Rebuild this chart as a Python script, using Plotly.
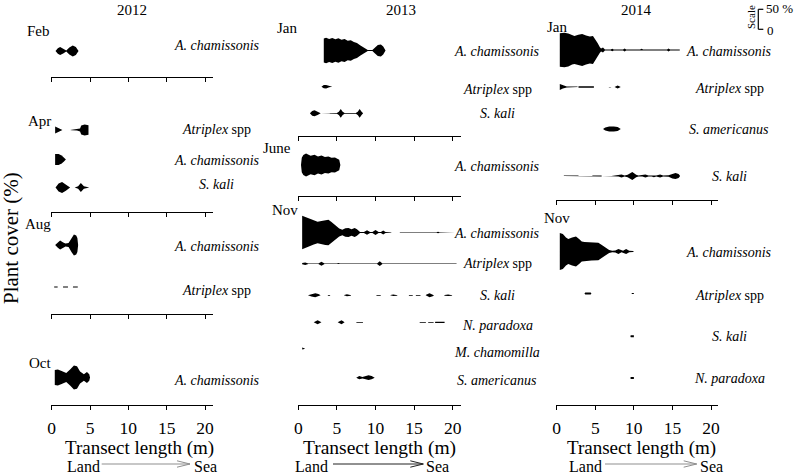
import plotly.graph_objects as go

# ---------------- DATA: (transect position m, plant cover %) breakpoints ----------------
YEARS = ["2012", "2013", "2014"]
TICKS = [0, 5, 10, 15, 20]

feb12_ach = [(0.5, 0), (0.8, 14), (1.1, 20), (1.5, 13), (1.9, 3), (2.3, 18), (2.75, 28), (3.15, 20), (3.5, 0)]
apr12_atr = [(0.45, 17), (0.8, 10), (1.4, 0), (2.4, 0), (2.6, 1), (3.3, 3), (3.7, 8), (3.85, 22), (4.3, 27), (4.8, 24)]
apr12_ach = [(0.45, 28), (0.9, 28), (1.3, 20), (1.6, 10), (1.85, 0)]
apr12_ska = [(0.5, 0), (0.9, 20), (1.35, 27), (1.85, 16), (2.4, 0), (3.0, 0), (3.45, 6), (3.8, 23), (4.2, 6), (4.9, 0)]
aug12_ach = [(0.45, 0), (0.8, 14), (1.1, 22), (1.5, 12), (1.8, 7), (2.2, 10), (2.6, 36), (2.9, 52), (3.2, 48), (3.35, 35), (3.45, 0)]
aug12_atr = [(0.3, 0), (0.35, 3), (0.75, 3), (0.8, 0), (1.45, 0), (1.5, 3), (2.1, 3), (2.15, 0), (2.75, 0), (2.8, 3), (3.4, 3), (3.45, 0)]
oct12_ach = [(0.4, 38), (0.8, 40), (1.3, 32), (1.9, 23), (2.4, 40), (2.9, 60), (3.3, 56), (3.7, 30), (4.2, 16), (4.6, 28), (4.9, 16), (5.0, 0)]

jan13_ach = [(3.3, 60), (3.6, 64), (4.0, 57), (4.4, 63), (4.8, 56), (5.2, 61), (5.6, 54), (6.0, 57), (6.4, 49), (6.8, 51),
             (7.2, 42), (7.6, 38), (8.0, 26), (8.5, 12), (9.0, 2), (9.6, 2), (9.9, 14), (10.3, 28), (10.7, 30), (11.0, 20), (11.3, 0)]
jan13_atr = [(3.0, 0), (3.3, 8), (3.6, 9), (4.0, 3), (4.4, 0)]
jan13_ska = [(1.5, 0), (1.8, 12), (2.1, 15), (2.5, 8), (2.9, 0), (4.05, 0), (4.1, 2), (5.0, 2), (5.25, 8), (5.5, 22), (5.75, 8),
             (6.0, 2), (7.45, 2), (7.7, 8), (7.95, 22), (8.2, 8), (8.4, 0)]
jun13_ach = [(0.35, 0), (0.45, 36), (0.65, 50), (1.0, 58), (1.6, 46), (2.1, 51), (2.55, 43), (3.0, 47), (3.45, 40), (3.9, 43),
             (4.3, 36), (4.75, 37), (5.3, 26), (5.45, 0)]
nov13_ach = [(0.5, 84), (1.0, 76), (1.5, 68), (2.0, 60), (2.5, 54), (3.0, 57), (3.5, 62), (3.9, 64), (4.3, 52), (4.8, 36),
             (5.3, 20), (5.7, 14), (6.1, 21), (6.5, 22), (6.9, 16), (7.3, 22), (7.6, 16), (8.0, 3), (8.5, 3), (8.9, 11),
             (9.3, 3), (9.6, 3), (10.0, 12), (10.4, 3), (10.7, 3), (11.0, 10), (11.3, 2), (12.0, 1.5), (12.1, 0), (13.1, 0),
             (13.2, 1.5), (17.9, 1.5), (18.1, 4), (18.3, 1.5), (20.3, 1.5)]
nov13_atr = [(0.5, 3), (0.9, 6), (1.3, 1.5), (2.6, 1.5), (3.0, 10), (3.4, 1.5), (5.0, 1.5), (5.2, 3.5), (5.4, 1.5), (6.5, 1.5),
             (6.7, 3), (6.9, 1.5), (8.4, 1.5), (8.6, 3.5), (8.8, 1.5), (10.2, 1.5), (10.55, 12), (10.9, 1.5), (12.5, 1.5),
             (12.7, 3), (12.9, 1.5), (16.0, 1.5), (16.2, 3), (16.4, 1.5), (20.5, 1.5)]
nov13_ska = [(1.25, 0), (1.7, 6), (2.2, 10), (2.6, 6), (2.9, 0), (3.8, 0), (3.85, 2), (4.1, 2), (4.15, 0), (5.9, 0), (5.95, 2),
             (6.3, 5), (6.8, 2), (6.85, 0), (10.1, 0), (10.15, 2), (10.65, 2), (10.7, 0), (11.9, 0), (11.95, 2), (12.3, 4),
             (12.8, 2), (12.85, 0), (14.3, 0), (14.35, 2), (14.8, 2), (14.85, 0), (15.2, 0), (15.25, 2), (15.8, 2), (15.85, 0),
             (16.5, 0), (16.55, 3), (17.0, 10), (17.5, 3), (17.55, 0), (18.9, 0), (18.95, 2), (19.4, 4), (19.9, 2), (19.95, 0)]
nov13_npa = [(2.0, 0), (2.5, 10), (3.0, 0), (5.1, 0), (5.6, 10), (6.0, 0), (7.5, 0), (7.55, 2), (8.35, 2), (8.4, 0),
             (15.7, 0), (15.75, 2), (16.5, 2), (16.55, 0), (16.8, 0), (16.85, 2), (17.5, 2), (17.55, 0), (17.7, 0), (17.75, 3),
             (18.95, 3), (19.0, 0)]
nov13_mch = [(0.5, 5), (0.8, 3), (0.85, 0)]
nov13_sam = [(7.5, 0), (7.9, 8), (8.3, 4), (8.6, 6), (9.1, 12), (9.5, 8), (9.9, 0)]

jan14_ach = [(0.4, 84), (1.0, 86), (1.5, 82), (2.0, 72), (2.3, 70), (2.8, 76), (3.3, 80), (3.8, 72), (4.3, 68), (4.7, 70),
             (5.0, 55), (5.3, 35), (5.6, 14), (5.75, 8), (6.0, 12), (6.25, 3), (7.0, 3), (7.2, 6), (7.4, 3), (8.6, 3),
             (8.8, 7), (9.0, 3), (10.8, 3), (11.0, 6), (11.2, 3), (12.5, 3), (12.7, 5), (12.9, 3), (14.3, 3), (14.5, 7),
             (14.7, 3), (15.9, 2), (16.0, 0)]
jan14_atr = [(0.4, 15), (0.8, 8), (1.3, 3), (2.6, 2), (2.7, 0), (2.8, 0), (2.85, 4), (4.8, 4), (4.85, 0), (6.7, 0), (6.9, 2),
             (7.1, 0), (7.5, 0), (7.9, 7), (8.3, 0)]
jan14_sam = [(6.0, 0), (6.3, 8), (6.8, 12), (7.4, 13), (7.9, 10), (8.3, 0)]
jan14_ska = [(0.9, 0), (0.95, 2), (2.8, 2), (2.85, 0), (4.6, 0), (4.65, 2), (5.8, 2), (5.85, 0), (7.1, 0), (7.6, 2), (8.0, 3),
             (8.4, 8), (8.8, 3), (9.2, 6), (9.8, 20), (10.3, 6), (10.6, 2.5), (11.1, 3), (11.5, 7), (11.9, 3), (12.3, 3),
             (12.6, 6), (12.9, 3), (13.4, 8), (13.8, 3), (14.5, 4), (15.0, 12), (15.4, 15), (15.8, 10), (16.0, 0)]
nov14_ach = [(0.4, 92), (0.8, 88), (1.2, 70), (1.5, 62), (2.0, 70), (2.5, 75), (2.9, 62), (3.25, 50), (3.6, 47), (3.9, 46),
             (4.5, 45), (5.4, 44), (5.8, 34), (6.3, 20), (6.8, 8), (7.2, 4), (7.6, 5), (8.0, 12), (8.4, 4), (8.6, 4),
             (9.0, 12), (9.4, 4), (9.9, 3), (10.0, 0)]
nov14_atr = [(3.6, 0), (3.7, 5), (4.4, 5), (4.5, 0), (9.7, 0), (9.75, 3), (10.0, 3), (10.05, 0)]
nov14_ska = [(9.55, 0), (9.6, 5), (10.0, 5), (10.05, 0)]
nov14_npa = [(9.55, 0), (9.6, 5), (10.0, 5), (10.05, 0)]

ACH = "<i>A. chamissonis</i>"
ATR = "<i>Atriplex</i> spp"
SKA = "<i>S. kali</i>"
NPA = "<i>N. paradoxa</i>"
MCH = "<i>M. chamomilla</i>"
SAM = "<i>S. americanus</i>"

# ---------------- LAYOUT (pixel geometry) ----------------
W, H = 800, 475
PPP = 0.4  # pixels per % cover
FONT = "Liberation Serif, Times New Roman, serif"

COLS = [
    dict(x0=51.7, ppm=7.665, left=50.7, right=213.3, lab=216.5, year_x=132, title_x=139, title_size=19,
         land=65, a0=101.7, a1=190, sea=191.7, arrow_col="#8f8f8f"),
    dict(x0=298.3, ppm=7.72, left=298.0, right=461.0, lab=497.5, year_x=400.5, title_x=379, title_size=19.5,
         land=293, a0=333, a1=423.3, sea=424, arrow_col="#222222"),
    dict(x0=556.7, ppm=7.715, left=556.0, right=718.3, lab=729, year_x=636.7, title_x=641.7, title_size=19,
         land=566.7, a0=605, a1=696.7, sea=698, arrow_col="#8f8f8f"),
]

PANELS = [
    dict(col=0, month="Feb", mx=52, my=30.5, axis=77, top=25, bottom=False,
         rows=[(feb12_ach, 51, ACH, 46)]),
    dict(col=0, month="Apr", mx=53, my=121, axis=211.7, top=100, bottom=False,
         rows=[(apr12_atr, 130, ATR, 129), (apr12_ach, 159.5, ACH, 160.7), (apr12_ska, 187.5, SKA, 184)]),
    dict(col=0, month="Aug", mx=53, my=224, axis=314, top=228, bottom=False,
         rows=[(aug12_ach, 245, ACH, 246), (aug12_atr, 287, ATR, 290)]),
    dict(col=0, month="Oct", mx=53, my=363, axis=404.5, top=335, bottom=True,
         rows=[(oct12_ach, 377.5, ACH, 380)]),
    dict(col=1, month="Jan", mx=299, my=28, axis=136.3, top=20, bottom=False,
         rows=[(jan13_ach, 50.5, ACH, 51.7), (jan13_atr, 86.7, ATR, 89.3), (jan13_ska, 113.3, SKA, 113.3)]),
    dict(col=1, month="June", mx=293, my=148, axis=196, top=140, bottom=False,
         rows=[(jun13_ach, 165, ACH, 166.7)]),
    dict(col=1, month="Nov", mx=300, my=210, axis=404.5, top=205, bottom=True,
         rows=[(nov13_ach, 232.5, ACH, 233.3), (nov13_atr, 263.7, ATR, 263.3), (nov13_ska, 295.3, SKA, 295),
               (nov13_npa, 322.3, NPA, 325), (nov13_mch, 348.5, MCH, 352.7), (nov13_sam, 377.7, SAM, 380)]),
    dict(col=2, month="Jan", mx=569, my=27, axis=200, top=20, bottom=False,
         rows=[(jan14_ach, 50, ACH, 51.7), (jan14_atr, 87, ATR, 88.3), (jan14_sam, 129, SAM, 130), (jan14_ska, 176, SKA, 176)]),
    dict(col=2, month="Nov", mx=572, my=218, axis=404.5, top=210, bottom=True,
         rows=[(nov14_ach, 251.5, ACH, 252.7), (nov14_atr, 293.5, ATR, 295), (nov14_ska, 336.2, SKA, 336.7),
               (nov14_npa, 378, NPA, 378.3)]),
]


def px_x(p):
    return p / W


def px_y(p):
    return 1 - p / H


fig = go.Figure()
layout = dict(width=W, height=H, margin=dict(l=0, r=0, t=0, b=0, autoexpand=False), paper_bgcolor="white",
              plot_bgcolor="white", showlegend=False, font=dict(family=FONT, color="black"))
annotations = []
shapes = []

for i, p in enumerate(PANELS, start=1):
    c = COLS[p["col"]]
    sfx = "" if i == 1 else str(i)
    xr = [(c["left"] - c["x0"]) / c["ppm"], (c["right"] - c["x0"]) / c["ppm"]]
    ymax = (p["axis"] - p["top"]) / PPP
    layout["xaxis" + sfx] = dict(domain=[px_x(c["left"]), px_x(c["right"])], range=xr, anchor="y" + sfx,
                                 showline=True, linecolor="black", linewidth=1.3, ticks="outside", ticklen=4,
                                 tickwidth=1.3, tickcolor="black", tickvals=TICKS, showticklabels=p["bottom"],
                                 tickfont=dict(family=FONT, size=17.5, color="black"), ticklabelstandoff=3,
                                 showgrid=False, zeroline=False, fixedrange=True)
    layout["yaxis" + sfx] = dict(domain=[px_y(p["axis"]), px_y(p["top"])], range=[0, ymax], anchor="x" + sfx,
                                 visible=False, fixedrange=True)
    for series, row_px, label, label_px in p["rows"]:
        base = (p["axis"] - row_px) / PPP
        xs = [v[0] for v in series]
        cs = [v[1] for v in series]
        top = [base + v / 2 for v in cs]
        bot = [base - v / 2 for v in cs]
        fig.add_trace(go.Scatter(x=xs + xs[::-1], y=top + bot[::-1], xaxis="x" + sfx, yaxis="y" + sfx,
                                 mode="lines", fill="toself", fillcolor="black", line=dict(width=0, color="black"),
                                 hoverinfo="skip"))
        annotations.append(dict(text=label, x=px_x(c["lab"]), y=px_y(label_px), xref="paper", yref="paper",
                                xanchor="center", yanchor="middle", showarrow=False,
                                font=dict(family=FONT, size=14, color="black")))
    annotations.append(dict(text=p["month"], x=px_x(p["mx"]), y=px_y(p["my"]), xref="paper", yref="paper",
                            xanchor="right", yanchor="middle", showarrow=False,
                            font=dict(family=FONT, size=15, color="black")))

for k, c in enumerate(COLS):
    annotations.append(dict(text=YEARS[k], x=px_x(c["year_x"]), y=px_y(9.5), xref="paper", yref="paper",
                            xanchor="center", yanchor="middle", showarrow=False,
                            font=dict(family=FONT, size=15, color="black")))
    annotations.append(dict(text="Transect length (m)", x=px_x(c["title_x"]), y=px_y(447.5), xref="paper", yref="paper",
                            xanchor="center", yanchor="middle", showarrow=False,
                            font=dict(family=FONT, size=c["title_size"], color="black")))
    annotations.append(dict(text="Land", x=px_x(c["land"]), y=px_y(466), xref="paper", yref="paper",
                            xanchor="left", yanchor="middle", showarrow=False,
                            font=dict(family=FONT, size=16, color="black")))
    annotations.append(dict(text="Sea", x=px_x(c["sea"]), y=px_y(466), xref="paper", yref="paper",
                            xanchor="left", yanchor="middle", showarrow=False,
                            font=dict(family=FONT, size=16, color="black")))
    ay = 464
    shapes.append(dict(type="line", xref="paper", yref="paper", x0=px_x(c["a0"]), x1=px_x(c["a1"]),
                       y0=px_y(ay), y1=px_y(ay), line=dict(color=c["arrow_col"], width=1)))
    for d in (-3.2, 3.2):
        shapes.append(dict(type="line", xref="paper", yref="paper", x0=px_x(c["a1"] - 13), x1=px_x(c["a1"]),
                           y0=px_y(ay + d), y1=px_y(ay), line=dict(color=c["arrow_col"], width=1)))

annotations.append(dict(text="Plant cover (%)", x=px_x(11), y=px_y(238), xref="paper", yref="paper",
                        xanchor="center", yanchor="middle", textangle=-90, showarrow=False,
                        font=dict(family=FONT, size=21, color="black")))

# scale bar: 50 % cover expressed through the same pixels-per-% factor
sb_x, sb_bottom = 758.3, 29.3
sb_top = sb_bottom - 50 * PPP
shapes.append(dict(type="line", xref="paper", yref="paper", x0=px_x(sb_x), x1=px_x(sb_x),
                   y0=px_y(sb_bottom), y1=px_y(sb_top), line=dict(color="black", width=1.2)))
for yy in (sb_bottom, sb_top):
    shapes.append(dict(type="line", xref="paper", yref="paper", x0=px_x(sb_x), x1=px_x(sb_x + 5),
                       y0=px_y(yy), y1=px_y(yy), line=dict(color="black", width=1.2)))
annotations.append(dict(text="50 %", x=px_x(763.5), y=px_y(sb_top - 1), xref="paper", yref="paper",
                        xanchor="left", yanchor="middle", showarrow=False, font=dict(family=FONT, size=13)))
annotations.append(dict(text="0", x=px_x(764.5), y=px_y(sb_bottom + 1), xref="paper", yref="paper",
                        xanchor="left", yanchor="middle", showarrow=False, font=dict(family=FONT, size=13)))
annotations.append(dict(text="Scale", x=px_x(751), y=px_y(17), xref="paper", yref="paper",
                        xanchor="center", yanchor="middle", textangle=-90, showarrow=False,
                        font=dict(family=FONT, size=11)))

layout["annotations"] = annotations
layout["shapes"] = shapes
fig.update_layout(**layout)
fig.write_html("out.html", config={"displayModeBar": False},
               post_script="document.body.style.margin='0px';document.body.style.padding='0px';")
